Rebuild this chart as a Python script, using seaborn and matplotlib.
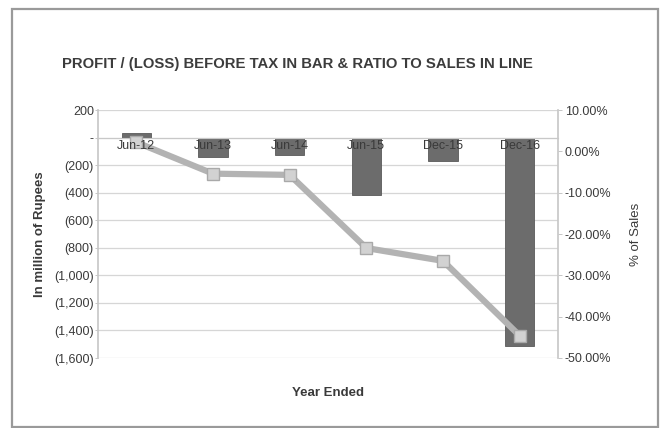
import numpy as np
import pandas as pd
import matplotlib
matplotlib.use("Agg")
import matplotlib.pyplot as plt
import matplotlib.ticker as mticker
import matplotlib.transforms as mtransforms
import seaborn as sns

# Profit/(loss) before tax (million Rupees) and its ratio to sales
periods = ["Jun-12", "Jun-13", "Jun-14", "Jun-15", "Dec-15", "Dec-16"]
profit_before_tax = [30, -140, -125, -420, -170, -1510]
ratio_to_sales = [0.022, -0.054, -0.057, -0.234, -0.265, -0.446]

left_ticks = [200, 0, -200, -400, -600, -800, -1000, -1200, -1400, -1600]
right_ticks = [0.10, 0.0, -0.10, -0.20, -0.30, -0.40, -0.50]

df = pd.DataFrame({"period": periods, "pbt": profit_before_tax,
                   "ratio": ratio_to_sales, "pos": np.arange(len(periods))})

sns.set_theme(style="white")
plt.rcParams["font.family"] = ["Liberation Sans", "DejaVu Sans"]
text_col = "#3a3a3a"
grid_col = "#d6d6d6"
tick_fs = 9

fig = plt.figure(figsize=(6.63, 4.28), dpi=100)
ax = fig.add_axes([98 / 663, 1 - 358 / 428, 460 / 663, 248 / 428])

sns.barplot(data=df, x="period", y="pbt", ax=ax, color="#6c6c6c",
            width=0.38, edgecolor="#5a5a5a", linewidth=0.6, saturation=1)

ax.set_ylim(-1600, 200)
ax.set_xlim(-0.5, len(periods) - 0.5)
ax.set_yticks(left_ticks)


def rupee_fmt(v, _):
    if abs(v) < 1e-9:
        return "-"
    if v < 0:
        return f"({abs(v):,.0f})"
    return f"{v:,.0f}"


ax.yaxis.set_major_formatter(mticker.FuncFormatter(rupee_fmt))
ax.tick_params(axis="y", labelsize=tick_fs, colors=text_col, length=2,
               width=0.6, pad=1, color="#bdbdbd")
ax.set_axisbelow(True)
ax.yaxis.grid(True, color=grid_col, linewidth=0.9)

# category axis sits on the zero line
ax.spines["bottom"].set_position(("data", 0))
ax.spines["bottom"].set_color("#c8c8c8")
ax.spines["bottom"].set_linewidth(0.8)
ax.tick_params(axis="x", length=0, labelbottom=False)
ax.xaxis.set_minor_locator(mticker.FixedLocator(np.arange(-0.5, len(periods), 1)))
ax.tick_params(axis="x", which="minor", length=3, color="#c8c8c8",
               direction="inout")
ax.spines["top"].set_visible(False)
ax.spines["left"].set_color("#c8c8c8")
ax.spines["right"].set_visible(False)
ax.set_xlabel("")
ax.set_ylabel("In million of Rupees", fontsize=9.5, color=text_col,
              fontweight="bold", labelpad=6)
fig.text(0.5 * (98 + 558) / 663, 1 - 393 / 428, "Year Ended", ha="center",
         va="center", fontsize=9.5, fontweight="bold", color=text_col)

ax2 = ax.twinx()
sns.lineplot(data=df, x="pos", y="ratio", ax=ax2, color="#b3b3b3",
             linewidth=4.5, marker="s", markersize=9,
             markerfacecolor="#d2d2d2", markeredgecolor="#a9a9a9",
             markeredgewidth=1.0, zorder=3)
ax2.set_ylim(-0.5, 0.1)
ax2.set_yticks(right_ticks)
ax2.yaxis.set_major_formatter(mticker.FuncFormatter(lambda v, _: f"{v * 100:.2f}%"))
ax2.tick_params(axis="y", labelsize=tick_fs, colors=text_col, length=3,
                width=0.6, pad=2, color="#bdbdbd")
ax2.set_xticks([])
ax2.set_xlabel("")
ax2.set_ylabel("% of Sales", fontsize=9.5, color=text_col, labelpad=13)
for s in ["top", "bottom", "left"]:
    ax2.spines[s].set_visible(False)
ax2.spines["right"].set_color("#c8c8c8")
ax2.set_xlim(-0.5, len(periods) - 0.5)

# category labels just under the zero line, drawn over the bars
zero_tr = mtransforms.offset_copy(ax.transData, fig=fig, x=0, y=-1.5,
                                  units="points")
for i, name in enumerate(periods):
    ax2.text(i, 0, name, transform=zero_tr, ha="center", va="top",
             fontsize=tick_fs, color=text_col, zorder=5)

fig.text(0.5 * (62 + 533) / 663, 1 - 64 / 428,
         "PROFIT / (LOSS) BEFORE TAX IN BAR & RATIO TO SALES IN LINE",
         ha="center", va="center", fontsize=10.7, fontweight="bold",
         color="#3c3c3c")

# outer chart frame
frame = plt.Rectangle((12 / 663, 0.002), (658 - 12) / 663, (418 / 428),
                      transform=fig.transFigure, fill=False,
                      edgecolor="#9a9a9a", linewidth=1.6)
fig.patches.append(frame)

fig.savefig("out.png", dpi=100)
